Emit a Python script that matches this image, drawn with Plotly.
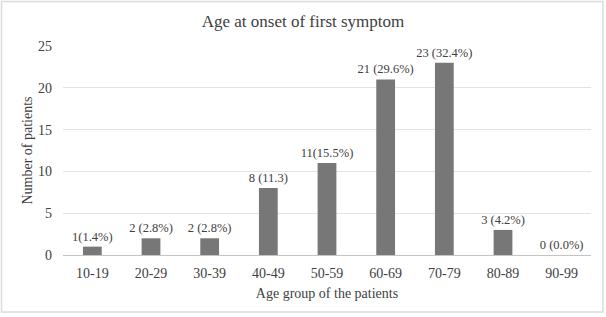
import plotly.graph_objects as go

categories = ["10-19", "20-29", "30-39", "40-49", "50-59", "60-69", "70-79", "80-89", "90-99"]
patients = [1, 2, 2, 8, 11, 21, 23, 3, 0]
labels = ["1(1.4%)", "2 (2.8%)", "2 (2.8%)", "8 (11.3)", "11(15.5%)", "21 (29.6%)", "23 (32.4%)", "3 (4.2%)", "0 (0.0%)"]

W, H = 606, 317
ml, mr, mt, mb = 63, 15, 46, 62

fig = go.Figure(go.Bar(
    x=categories, y=patients, text=labels, textposition="outside",
    constraintext="none",
    textfont=dict(family="Liberation Serif", size=12.5, color="#404040"),
    marker=dict(color="#777777", line=dict(width=0)),
    cliponaxis=False,
))

pw = W - ml - mr
ph = H - mt - mb
fig.add_shape(type="rect", xref="paper", yref="paper",
              x0=(1.5 - ml) / pw, x1=(W - 3 - ml) / pw,
              y0=-(mb - 5) / ph, y1=1 + (mt - 1.5) / ph,
              line=dict(color="#dcdcdc", width=1.5))

fig.update_layout(
    width=W, height=H,
    margin=dict(l=ml, r=mr, t=mt, b=mb),
    paper_bgcolor="white", plot_bgcolor="white",
    font=dict(family="Liberation Serif", color="#404040", size=14),
    title=dict(text="Age at onset of first symptom", x=0.5, xref="container", xanchor="center",
               y=1 - 21 / H, yanchor="middle", font=dict(size=17, color="#404040")),
    bargap=0.68,
    showlegend=False,
    xaxis=dict(showgrid=False, showline=False, ticks="", tickfont=dict(size=14),
               ticklabelstandoff=8,
               title=dict(text="Age group of the patients", font=dict(size=14), standoff=8)),
    yaxis=dict(range=[0, 25], dtick=5, showgrid=True, gridcolor="#e3e3e3", gridwidth=1,
               zeroline=True, zerolinecolor="#c4c4c4", zerolinewidth=1,
               showline=False, ticks="", tickfont=dict(size=14), ticklabelstandoff=10,
               title=dict(text="Number of patients", font=dict(size=14), standoff=2)),
)

fig.write_html("out.html")
